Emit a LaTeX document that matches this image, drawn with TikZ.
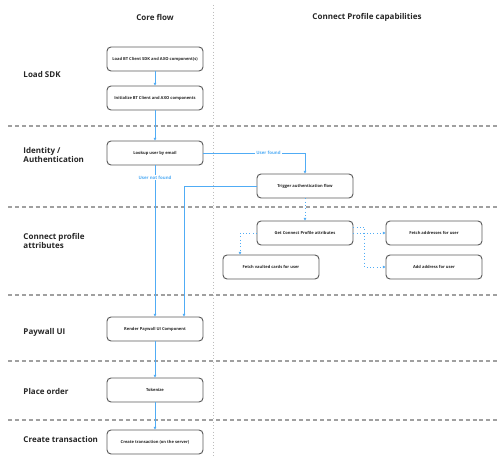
\documentclass[tikz,border=0pt]{standalone}
\usepackage{fontspec}
\setmainfont{Open Sans}
\usetikzlibrary{arrows.meta}

\definecolor{flowblue}{RGB}{80,172,245}
\definecolor{lanegray}{RGB}{160,160,160}
\definecolor{boxgray}{RGB}{90,90,90}

\tikzset{every picture/.style={line width=0.75pt}}
\tikzset{
  stepbox/.style={draw=boxgray, line width=0.7pt, rounded corners=3pt, fill=white,
    minimum width=72pt, minimum height=18pt, inner sep=0.75pt, align=center,
    font=\fontsize{3.05}{3.6}\selectfont\bfseries, text=black!85},
  lanelabel/.style={anchor=west, inner sep=0.75pt, align=left,
    font=\fontsize{6}{7.2}\selectfont\bfseries, text=black!85},
  colhead/.style={inner sep=0.75pt, font=\fontsize{6}{7.2}\selectfont\bfseries, text=black!85},
  flow/.style={draw=flowblue, line width=0.5pt, -{Triangle[length=2pt,width=2pt]}},
  optflow/.style={flow, dotted, line width=0.7pt},
  flowlabel/.style={fill=white, inner sep=0.75pt, text=flowblue,
    font=\fontsize{3.3}{3.9}\selectfont\bfseries},
  lanesep/.style={draw=lanegray, line width=1pt, dash pattern=on 3pt off 2.2pt}
}

\begin{document}
\begin{tikzpicture}[x=0.75pt,y=0.75pt,yscale=-1,xscale=1]
\useasboundingbox (0,0) rectangle (500,467);

%Straight Lines: lane separators
\draw [lanesep] (8,126) -- (500,126) ;
\draw [lanesep] (8,207) -- (500,207) ;
\draw [lanesep] (8,295) -- (500,295) ;
\draw [lanesep] (8,361) -- (500,361) ;
\draw [lanesep] (8,420) -- (500,420) ;
%Straight Lines: column separator
\draw [draw=lanegray!70, line width=0.5pt, dotted] (213,5) -- (213,457) ;

% Column headers
\node [colhead] (hcore) at (155,17) {Core flow};
\node [colhead] (hcap) at (367,17) {Connect Profile capabilities};

% Lane labels
\node [lanelabel] (lsdk) at (22,75) {Load SDK};
\node [lanelabel] (lauth) at (22,155) {Identity /\\Authentication};
\node [lanelabel] (lattr) at (22,241) {Connect profile\\attributes};
\node [lanelabel] (lpay) at (22,332) {Paywall UI};
\node [lanelabel] (lorder) at (22,391) {Place order};
\node [lanelabel] (ltrans) at (22,439) {Create transaction};

% Boxes
\node [stepbox] (loadsdk) at (155,59) {Load BT Client SDK and AXO component(s)};
\node [stepbox] (initsdk) at (155,98) {Initialize BT Client and AXO components};
\node [stepbox] (lookup) at (155,153) {Lookup user by email};
\node [stepbox] (trigger) at (305,186) {Trigger authentication flow};
\node [stepbox] (getattr) at (305,233) {Get Connect Profile attributes};
\node [stepbox] (cards) at (271,267) {Fetch vaulted cards for user};
\node [stepbox] (fetchaddr) at (434,233) {Fetch addresses for user};
\node [stepbox] (addaddr) at (434,267) {Add address for user};
\node [stepbox] (paywall) at (155,329) {Render Paywall UI Component};
\node [stepbox] (tokenize) at (155,390) {Tokenize};
\node [stepbox] (createtx) at (155,442) {Create transaction (on the server)};

% Connectors
\draw [flow] (loadsdk) -- (initsdk) ;
\draw [flow] (initsdk) -- (lookup) ;
\draw [flow] (lookup) -- node [flowlabel, pos=0.08] {User not found} (paywall) ;
\draw [flow] (lookup.east) -| node [flowlabel, pos=0.32] {User found} (trigger.north) ;
\draw [flow] (trigger.west) -| ([xshift=21.75pt]paywall.north) ;
\draw [optflow] (trigger) -- (getattr) ;
\draw [optflow] (getattr.west) -| ([xshift=-23.25pt]cards.north) ;
\draw [optflow] (getattr) -- (fetchaddr) ;
\draw [optflow] ([yshift=-4.5pt]getattr.east) -- ++(8.25pt,0) |- (addaddr.west) ;
\draw [flow] (paywall) -- (tokenize) ;
\draw [flow] (tokenize) -- (createtx) ;

\end{tikzpicture}
\end{document}
